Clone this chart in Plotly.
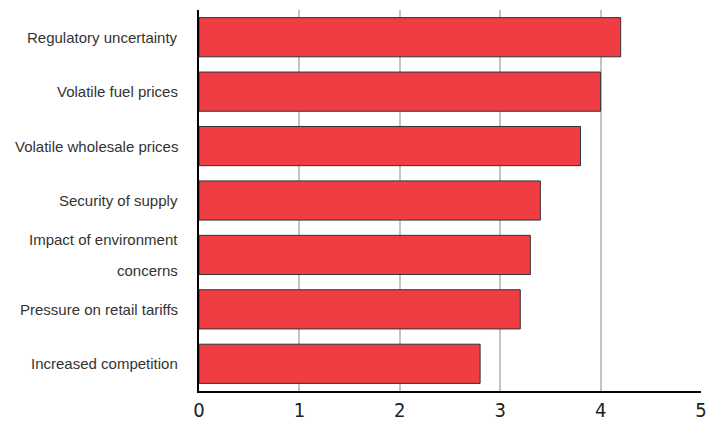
import plotly.graph_objects as go

categories = [
    "Regulatory uncertainty",
    "Volatile fuel prices",
    "Volatile wholesale prices",
    "Security of supply",
    "Impact of environment concerns",
    "Pressure on retail tariffs",
    "Increased competition",
]
label_lines = [
    ["Regulatory uncertainty"],
    ["Volatile fuel prices"],
    ["Volatile wholesale prices"],
    ["Security of supply"],
    ["Impact of environment", "concerns"],
    ["Pressure on retail tariffs"],
    ["Increased competition"],
]
values = [4.2, 4.0, 3.8, 3.4, 3.3, 3.2, 2.8]
x_ticks = [0, 1, 2, 3, 4, 5]

fig = go.Figure(go.Bar(
    x=values, y=categories, orientation="h",
    marker=dict(color="#EF3D43", line=dict(color="#333333", width=1)),
    hoverinfo="skip",
))

annotations = []
for cat, lines in zip(categories, label_lines):
    n = len(lines)
    for i, line in enumerate(lines):
        shift = (n - 1) / 2 * 31 - i * 31
        annotations.append(dict(
            x=0, xref="x", y=cat, yref="y", text=line, showarrow=False,
            xanchor="right", yanchor="middle", xshift=-19, yshift=shift,
            font=dict(family="Liberation Sans, Arial, sans-serif", size=15, color="#333333"),
        ))

fig.update_layout(
    width=717, height=422,
    margin=dict(l=199, r=16, t=10, b=31),
    paper_bgcolor="white", plot_bgcolor="white",
    bargap=0.28, showlegend=False,
    annotations=annotations,
    xaxis=dict(
        range=[0, 5], tickvals=x_ticks, ticktext=[str(t) for t in x_ticks],
        showgrid=True, gridcolor="#C4C4C4", gridwidth=1.5,
        showline=True, linecolor="black", linewidth=2,
        zeroline=False, ticks="", automargin=False,
        tickfont=dict(family="DejaVu Sans Condensed, Liberation Sans Narrow, Liberation Sans, sans-serif", size=20, color="#222222"),
        fixedrange=True,
    ),
    yaxis=dict(
        categoryorder="array", categoryarray=categories,
        autorange=False, range=[6.5, -0.5],
        showticklabels=False, showgrid=False,
        showline=True, linecolor="black", linewidth=2,
        zeroline=False, ticks="", fixedrange=True, automargin=False,
    ),
)

fig.write_html("out.html")
